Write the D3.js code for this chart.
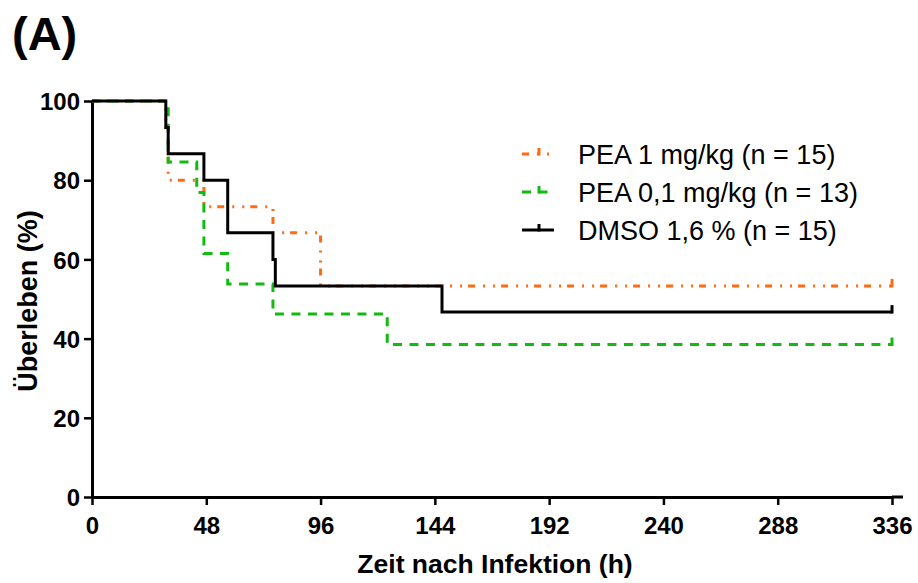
<!DOCTYPE html>
<html><head><meta charset="utf-8">
<script src="https://cdn.jsdelivr.net/npm/d3@7"></script>
<style>body{margin:0;background:#fff}svg{display:block}text{font-family:"Liberation Sans",Arial,sans-serif}</style>
</head><body>
<svg id="chart" width="918" height="583"></svg>
<script>
// Data (Kaplan-Meier step curves)
const seriesNames = ["PEA 1 mg/kg (n = 15)", "PEA 0,1 mg/kg (n = 13)", "DMSO 1,6 % (n = 15)"];
const pea1Times = [0, 31, 32, 47, 76, 96, 336];
const pea1Surv  = [100, 93.3, 80, 73.3, 66.7, 53.3, 53.3];
const pea01Times = [0, 32, 44, 47, 57, 76, 124, 336];
const pea01Surv  = [100, 84.6, 76.9, 61.5, 53.8, 46.2, 38.5, 38.5];
const dmsoTimes = [0, 31, 32, 47, 57, 76, 77, 147, 336];
const dmsoSurv  = [100, 93.3, 86.7, 80, 66.7, 60, 53.3, 46.7, 46.7];
const xTicks = [0, 48, 96, 144, 192, 240, 288, 336];
const yTicks = [0, 20, 40, 60, 80, 100];

const styles = [
  {color: "#ff6a13", dash: "7,8,2,8,2,6"},
  {color: "#11bb11", dash: "9,7.5"},
  {color: "#000000", dash: null}
];
const data = [
  {name: seriesNames[0], times: pea1Times, surv: pea1Surv},
  {name: seriesNames[1], times: pea01Times, surv: pea01Surv},
  {name: seriesNames[2], times: dmsoTimes, surv: dmsoSurv}
];

const svg = d3.select("#chart");
const x = d3.scaleLinear().domain([0, 336]).range([92, 892]);
const y = d3.scaleLinear().domain([0, 100]).range([497, 101]);

// Axes
const xAxis = svg.append("g").attr("transform", `translate(0,${y(0)})`)
  .call(d3.axisBottom(x).tickValues(xTicks).tickSize(8).tickPadding(12).tickSizeOuter(0));
const yAxis = svg.append("g").attr("transform", `translate(${x(0)},0)`)
  .call(d3.axisLeft(y).tickValues(yTicks).tickSize(8).tickPadding(4).tickSizeOuter(0));
[xAxis, yAxis].forEach(g => {
  g.selectAll("path.domain").attr("stroke", "#000").attr("stroke-width", 3);
  g.selectAll(".tick line").attr("stroke", "#000").attr("stroke-width", 2.5);
  g.selectAll(".tick text").attr("fill", "#000").style("font-size", "24px").style("font-weight", "bold");
});
// small extension of x axis beyond last tick
svg.append("line").attr("x1", x(336)).attr("x2", x(336) + 11).attr("y1", y(0)).attr("y2", y(0))
  .attr("stroke", "#000").attr("stroke-width", 3);
yAxis.selectAll(".tick text").attr("dy", "0.36em");

// Curves
const line = d3.line().x(d => x(d[0])).y(d => y(d[1])).curve(d3.curveStepAfter);
data.forEach((s, i) => {
  const pts = s.times.map((t, k) => [t, s.surv[k]]);
  svg.append("path").datum(pts).attr("d", line)
    .attr("fill", "none").attr("stroke", styles[i].color).attr("stroke-width", 3)
    .attr("stroke-dasharray", styles[i].dash);
  // censor tick at the end
  const last = pts[pts.length - 1];
  svg.append("line").attr("x1", x(last[0])).attr("x2", x(last[0]))
    .attr("y1", y(last[1]) + 1.5).attr("y2", y(last[1]) - 7)
    .attr("stroke", styles[i].color).attr("stroke-width", 3);
});

// Legend
const legY = [154, 192, 230];
data.forEach((s, i) => {
  const g = svg.append("g").attr("transform", `translate(522,${legY[i]})`);
  g.append("line").attr("x1", 0).attr("x2", 32).attr("y1", 0).attr("y2", 0)
    .attr("stroke", styles[i].color).attr("stroke-width", 3)
    .attr("stroke-dasharray", styles[i].dash);
  g.append("line").attr("x1", 17).attr("x2", 17).attr("y1", 1.5).attr("y2", -6)
    .attr("stroke", styles[i].color).attr("stroke-width", 3);
  g.append("text").attr("x", 56).attr("y", 0).attr("dy", "0.36em")
    .style("font-size", "27px").attr("fill", "#000").text(s.name);
});

// Titles
svg.append("text").attr("x", (x(0) + x(336)) / 2 + 3).attr("y", 573).attr("text-anchor", "middle")
  .style("font-size", "26.5px").style("font-weight", "bold").text("Zeit nach Infektion (h)");
svg.append("text").attr("transform", `translate(37,${(y(0) + y(100)) / 2 + 2}) rotate(-90)`)
  .attr("text-anchor", "middle")
  .style("font-size", "27px").style("font-weight", "bold").text("Überleben (%)");
svg.append("text").attr("x", 12).attr("y", 50)
  .style("font-size", "47px").style("font-weight", "bold").text("(A)");
</script>
</body></html>
